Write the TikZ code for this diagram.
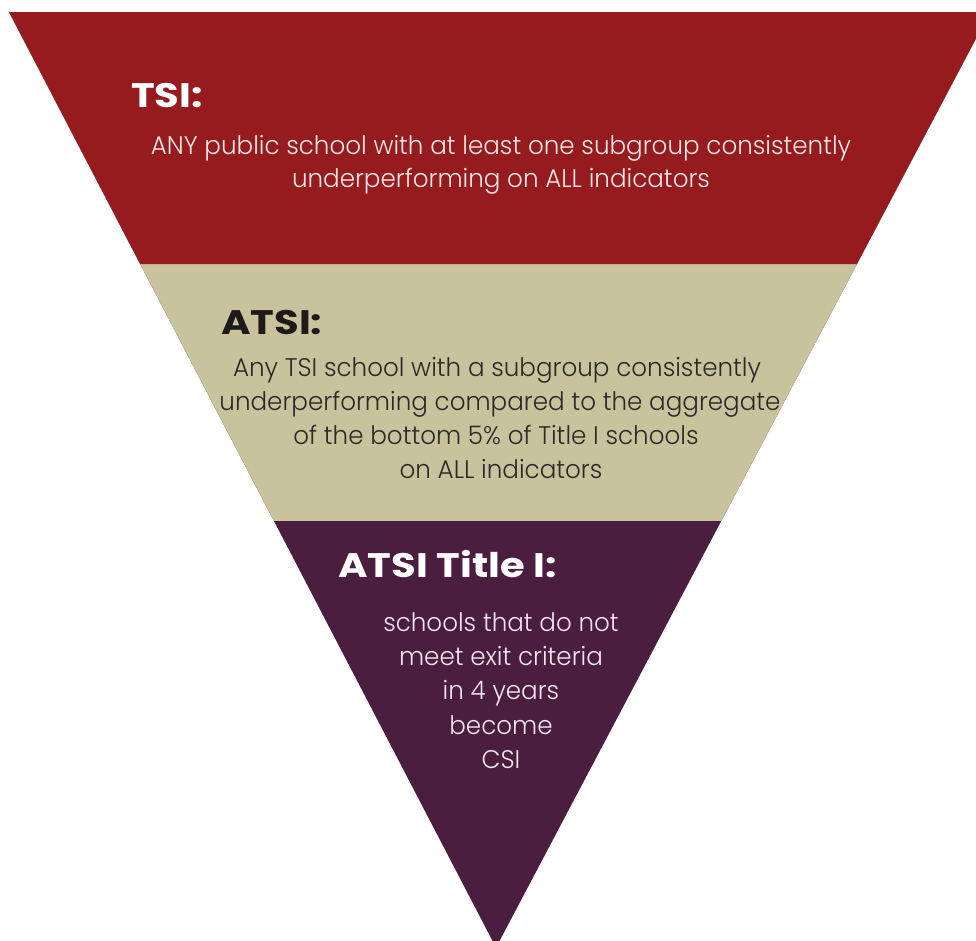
\documentclass[tikz,border=0pt]{standalone}
\usepackage{fontspec}
\usetikzlibrary{calc}
\newfontfamily\bodyfont{Poppins}[UprightFont=* Light, FakeStretch=0.965]
\newfontfamily\headfont{Poppins}[UprightFont=* Bold, FakeStretch=1.18]
\definecolor{bandred}{HTML}{951B1F}
\definecolor{bandtan}{HTML}{C8C39C}
\definecolor{bandpurple}{HTML}{4B1E40}
\definecolor{redtext}{HTML}{F3E6E6}
\definecolor{tanhead}{HTML}{1E1A1A}
\definecolor{tantext}{HTML}{2B2929}
\definecolor{purpletext}{HTML}{F1E6EE}
\begin{document}
\begin{tikzpicture}[x=1pt,y=-1pt,
  head/.style={font=\headfont\fontsize{34}{34}\selectfont, inner sep=0pt, anchor=base west},
  body/.style={font=\bodyfont\fontsize{25.5}{25.5}\selectfont, inner sep=0pt, anchor=base}]
\useasboundingbox (0,0) rectangle (976,940);
\clip (0,0) rectangle (976,940);
\coordinate (TL) at (9,12);
\coordinate (TR) at (990,12);
\coordinate (AP) at (496,947.6);
\coordinate (L1) at ($(TL)!0.26935!(AP)$);
\coordinate (R1) at ($(TR)!0.26935!(AP)$);
\coordinate (L2) at ($(TL)!0.5440!(AP)$);
\coordinate (R2) at ($(TR)!0.5440!(AP)$);
\fill[bandpurple] (TL) -- (TR) -- (AP) -- cycle;
\fill[bandtan] (TL) -- (TR) -- (R2) -- (L2) -- cycle;
\fill[bandred] (TL) -- (TR) -- (R1) -- (L1) -- cycle;
% TSI band
\node[head, text=white] (tsih) at (131,107) {TSI:};
\node[body, text=redtext] (tsi1) at (501,154) {ANY public school with at least one subgroup consistently};
\node[body, text=redtext] (tsi2) at (501,187) {underperforming on ALL indicators};
% ATSI band
\node[head, text=tanhead] (atsih) at (221,334) {ATSI:};
\node[body, text=tantext] (atsi1) at (497,376) {Any TSI school with a subgroup consistently};
\node[body, text=tantext] (atsi2) at (500,410) {underperforming compared to the aggregate};
\node[body, text=tantext] (atsi3) at (496,444) {of the bottom 5\% of Title I schools};
\node[body, text=tantext] (atsi4) at (501,478) {on ALL indicators};
% ATSI Title I band
\node[head, text=white] (titleh) at (338,577) {ATSI Title I:};
\node[body, text=purpletext] (t1) at (501,631) {schools that do not};
\node[body, text=purpletext] (t2) at (501,665) {meet exit criteria};
\node[body, text=purpletext] (t3) at (501,699) {in 4 years};
\node[body, text=purpletext] (t4) at (501,734) {become};
\node[body, text=purpletext] (t5) at (501,768) {CSI};
\end{tikzpicture}
\end{document}
